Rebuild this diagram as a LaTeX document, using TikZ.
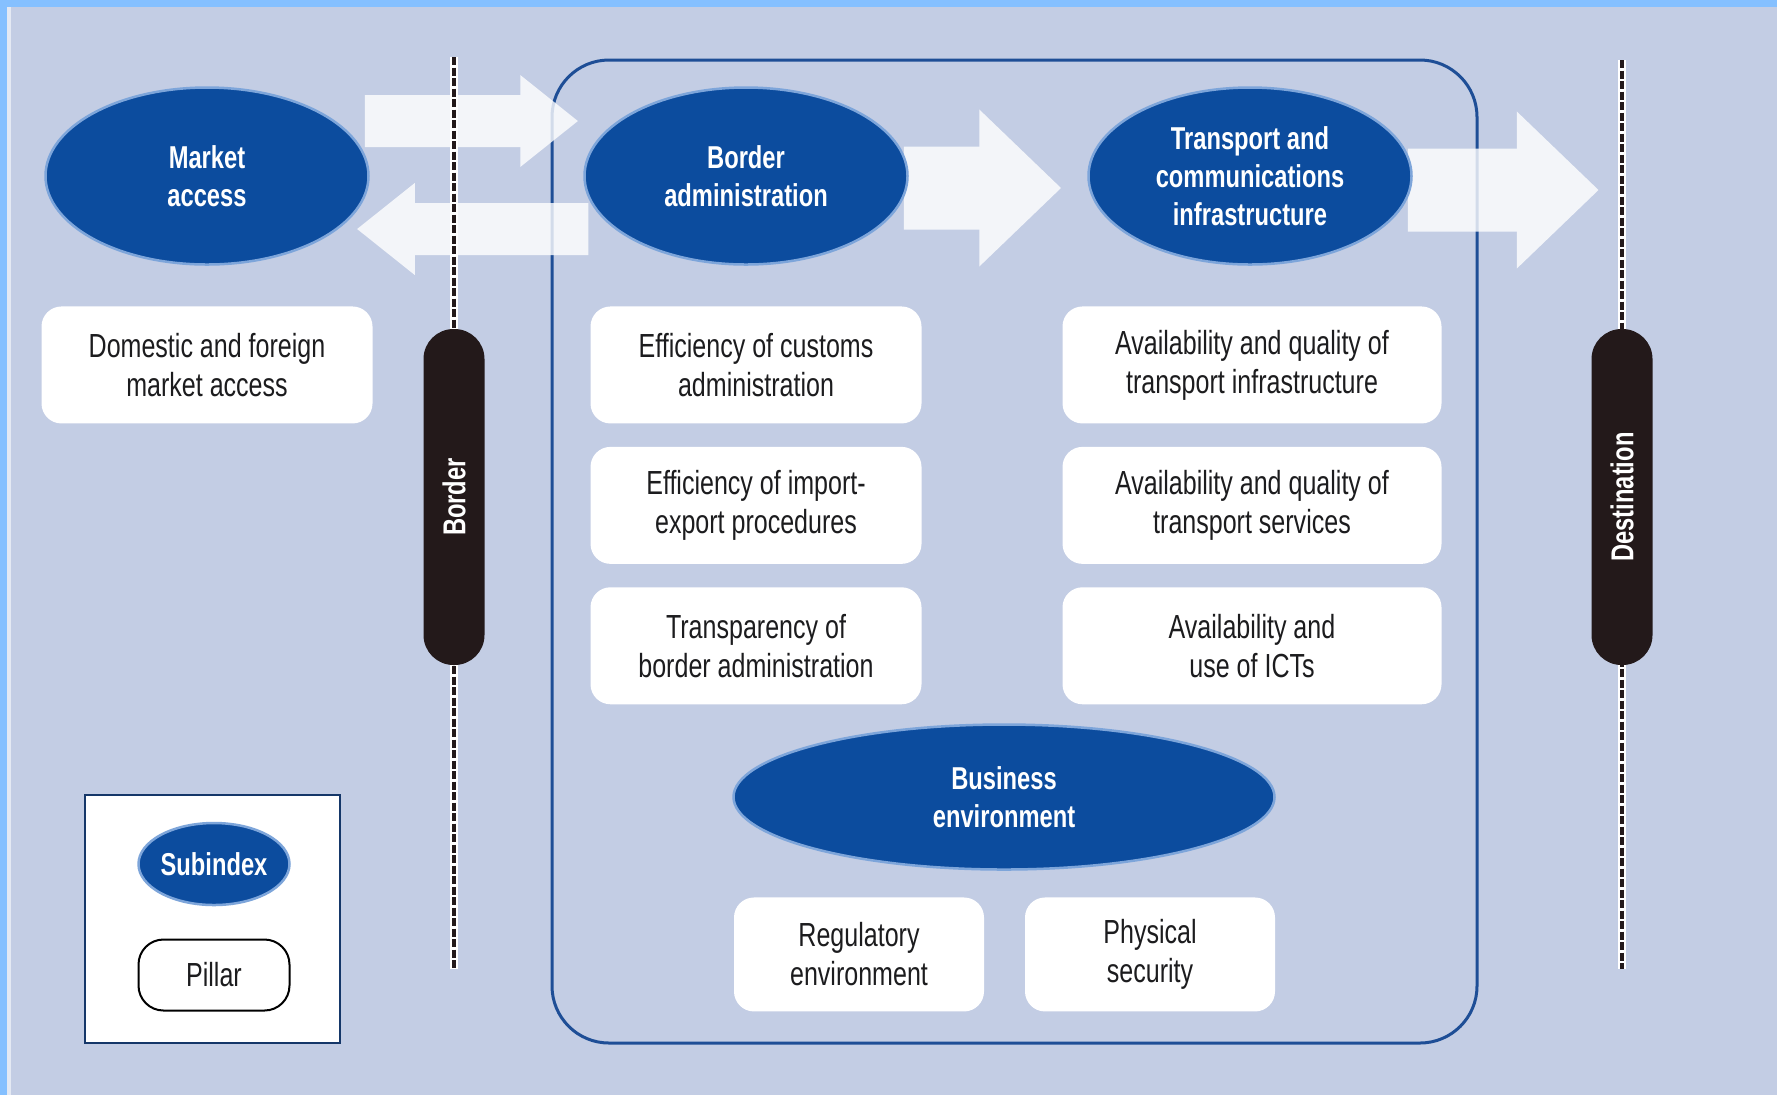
\documentclass[tikz,border=0pt]{standalone}
\usepackage{fontspec}
\setmainfont{Liberation Sans}[FakeStretch=0.75]
\usetikzlibrary{shapes.geometric}
\usetikzlibrary{positioning}
\usetikzlibrary{calc}
\usetikzlibrary{backgrounds}
\usetikzlibrary{arrows.meta}
\definecolor{edgeblue}{RGB}{133,192,255}
\definecolor{paper}{RGB}{195,205,228}
\definecolor{wefblue}{RGB}{12,76,158}
\definecolor{rimblue}{RGB}{125,165,218}
\definecolor{lineblue}{RGB}{30,78,150}
\definecolor{barblack}{RGB}{35,25,26}
\definecolor{ink}{RGB}{28,28,30}
\tikzstyle{subindex} = [ellipse,fill=wefblue,draw=rimblue,line width=0.25mm,text=white,
inner sep=0pt,minimum width=32.3mm,minimum height=17.7mm,align=center,
font=\bfseries\fontsize{9}{10.8}\selectfont]
\tikzstyle{pillar} = [rectangle,rounded corners=2mm,fill=white,inner sep=0pt,
minimum width=33.1mm,minimum height=11.7mm,align=center,text=ink,
font=\fontsize{9.5}{11.1}\selectfont, node distance=2.2mm]
\tikzstyle{barrier} = [rectangle,rounded corners=3mm,fill=barblack,text=white,rotate=90,
minimum width=33.6mm,minimum height=6.1mm,inner sep=0pt,font=\bfseries\fontsize{9}{10}\selectfont]
\tikzstyle{crossline} = [draw=barblack,line width=0.45mm,dash pattern=on 0.8mm off 0.25mm,
preaction={draw=white,line width=0.8mm,solid}]
\tikzstyle{flow} = [line width=5.2mm,white,-{Triangle[length=5.8mm,width=8.8mm]}]
\tikzstyle{flowbig} = [line width=8.3mm,white,-{Triangle[length=8.2mm,width=15.2mm]}]

\begin{document}
\begin{tikzpicture}[x=0.1mm,y=-0.1mm]
  \useasboundingbox (0,0) rectangle (1777,1095);

  \node[subindex] (ma) at (207,176) {Market\\access};
  \node[subindex] (ba) at (746,176) {Border\\administration};
  \node[subindex] (tc) at (1250,176) {Transport and\\communications\\infrastructure};
  \node[subindex, minimum width=54.1mm, minimum height=14.5mm] (be) at (1004,797)
    {Business\\environment};

  \begin{pgfonlayer}{background}
    \fill[edgeblue] (0,0) rectangle (1777,1095);
    \fill[paper] (7,7) rectangle (1777,1095);
    \fill[white!55!paper] (7,7) rectangle (11,1095);
    % the border zone
    \draw[lineblue, line width=0.3mm, rounded corners=5.7mm] (552,60) rectangle (1477,1043);
    \begin{scope}[transparency group, opacity=0.8]
      \draw[flow] ($(ma.east)+(-5,-55)$) -- ($(ba.west)+(-5,-55)$);
      \draw[flow] ($(ba.west)+(5,53)$) -- ($(ma.east)+(-13,53)$);
      \draw[flowbig] ($(ba.east)+(-5,12)$) -- ($(tc.west)+(-26,12)$);
      \draw[flowbig] ($(tc.east)+(-5,14)$) -- ($(tc.east)+(186,14)$);
    \end{scope}
  \end{pgfonlayer}

  \node[pillar, below=4mm of ba, xshift=1mm] (eca) {Efficiency of customs\\administration};
  \node[pillar, below=of eca] (eip) {Efficiency of import-\\export procedures};
  \node[pillar, below=of eip] (tba) {Transparency of\\border administration};

  \node[pillar, below=4mm of ma] (dm) {Domestic and foreign\\market access};

  \node[pillar, minimum width=37.9mm, below=4mm of tc, xshift=0.2mm] (ati) {Availability and quality of\\transport infrastructure};
  \node[pillar, minimum width=37.9mm, below=of ati] (ats) {Availability and quality of\\transport services};
  \node[pillar, minimum width=37.9mm, below=of ats] (ict) {Availability and\\use of ICTs};

  \node[pillar, minimum width=25mm, minimum height=11.4mm, below=2.6mm of be, xshift=-14.5mm] (reg)
    {Regulatory\\environment};
  \node[pillar, minimum width=25mm, minimum height=11.4mm, below=2.6mm of be, xshift=14.6mm] (phy)
    {Physical\\security};

  \coordinate (bt) at (454,57);
  \coordinate (bb) at (454,969);
  \coordinate (dt) at (1622,60);
  \coordinate (db) at (1622,969);
  \draw[crossline] (bt) -- (bb);
  \draw[crossline] (dt) -- (db);
  \node[barrier] (bd) at (454,497) {Border};
  \node[barrier] (dn) at (1622,497) {Destination};

  % legend
  \node[draw=lineblue!70!black, fill=white, line width=0.2mm, minimum width=25.5mm,
    minimum height=24.8mm, inner sep=0pt] (key) at (212,919) {};
  \node[subindex, minimum width=14.6mm, minimum height=8.2mm] (keysub) at (214,864) {Subindex};
  \node[pillar, draw=black, line width=0.2mm, rounded corners=2.5mm, minimum width=15.1mm,
    minimum height=7.1mm] (keypil) at (214,975) {Pillar};
\end{tikzpicture}
\end{document}
